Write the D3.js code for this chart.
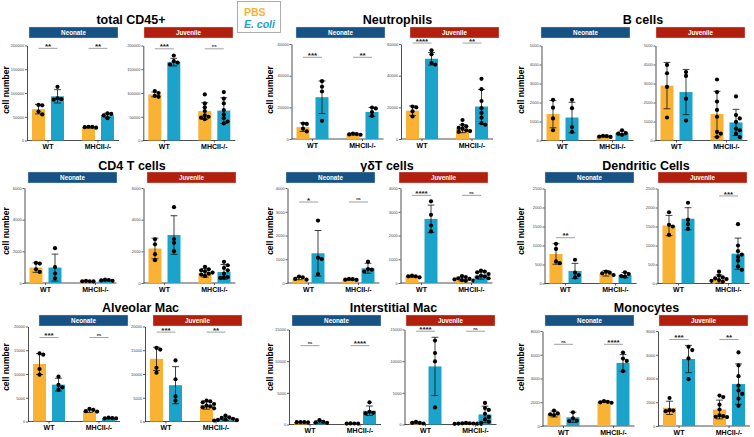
<!DOCTYPE html>
<html><head><meta charset="utf-8">
<script src="https://cdn.jsdelivr.net/npm/d3@7"></script>
<style>
body{margin:0;background:#fff;}
svg{display:block;font-family:"Liberation Sans",Arial,Helvetica,sans-serif;}
</style></head><body>
<svg id="c" width="754" height="437"></svg>
<script>
// ---------- data ----------
const cellTypes = ["total CD45+","Neutrophils","B cells","CD4 T cells","γδT cells","Dendritic Cells","Alveolar Mac","Interstitial Mac","Monocytes"];
const ages = ["Neonate","Juvenile"];
const genotypes = ["WT","MHCII-/-"];
const treatments = ["PBS","E. coli"];
const yMax  = [200000, 60000, 5000, 6000, 4000, 2500, 20000, 15000, 8000];
const yStep = [50000, 20000, 1000, 2000, 1000, 500, 5000, 5000, 2000];
// order within each age: WT-PBS, WT-E.coli, MHCII-PBS, MHCII-E.coli
const means = [
  [[66000, 93000, 28000, 53000], [97000, 165000, 62000, 63000]],
  [[7500, 26400, 3000, 17100], [17900, 50700, 6500, 20500]],
  [[1390, 1210, 215, 390], [2890, 2550, 1390, 950]],
  [[975, 975, 110, 170], [2180, 3030, 640, 700]],
  [[190, 1250, 140, 620], [270, 2700, 170, 310]],
  [[777, 330, 268, 223], [1527, 1705, 116, 785]],
  [[12100, 7760, 2170, 700], [13190, 7640, 3470, 555]],
  [[370, 420, 160, 2170], [265, 9170, 160, 1590]],
  [[1010, 730, 2040, 5310], [1530, 5640, 1390, 3530]]
];
const sds = [
  [[10000, 14000, 1500, 4500], [5000, 8000, 17500, 27000]],
  [[2700, 10300, 500, 2800], [3000, 4000, 2500, 10800]],
  [[720, 800, 40, 100], [1220, 1190, 1200, 690]],
  [[300, 850, 20, 40], [650, 1220, 270, 470]],
  [[50, 960, 25, 210], [30, 580, 80, 150]],
  [[270, 200, 72, 68], [265, 290, 110, 410]],
  [[2200, 1350, 250, 100], [2450, 3900, 870, 350]],
  [[20, 180, 15, 750], [100, 4600, 60, 1300]],
  [[250, 430, 60, 700], [560, 1150, 790, 1700]]
];
const points = [
  [[[75000,74000,61000,55000],[113000,89000,87000,86000],[29000,28500,28000,27000],[57000,56000,53000,47000]],
   [[104000,100000,94000,92000],[179000,167000,164000,160000],[97000,78000,70000,62000,53000,50000,48000,45000],[102000,88000,78000,64000,55000,47000,40000,36000]]],
  [[[9800,9500,6500,4800],[36500,33000,30000,11500],[3400,3100,2900,2700],[19900,19300,17000,14600]],
   [[20500,20000,17500,14200],[56000,53500,48000,47000],[12000,9000,8000,7000,6500,5500,5000,4500],[38000,31500,24000,19500,16500,13500,10000,9000]]],
  [[[2140,1730,1160,540],[2140,1700,710,450],[250,230,200,190],[540,390,360,300]],
   [[3980,3540,2820,1210],[3600,3400,2200,1050],[3210,2550,2050,1610,1250,450,360,180],[2320,1340,1160,980,625,540,360,180]]],
  [[[1270,1230,870,700],[2200,1000,600,300],[130,110,100,110],[210,190,160,140]],
   [[2760,2440,1820,1440],[4790,2780,2540,2010],[1020,870,800,740,660,590,530,445],[1340,1120,950,800,590,380,340,320]]],
  [[[270,240,170,140],[2630,1060,1010,380],[180,160,140,130],[900,590,560,480]],
   [[310,280,280,240],[3440,2870,2420,2170],[290,250,200,170,150,120,100,90],[520,480,450,380,310,280,240,200]]],
  [[[1045,910,580,535],[625,285,223,160],[312,285,268,223],[295,250,196,180]],
   [[1875,1545,1500,1277],[2125,1680,1562,1437],[312,205,160,134,116,71,45,90],[1560,1000,850,760,700,600,450,360]]],
  [[[14340,14060,11050,9860],[9440,7690,7200,6710],[2660,2450,2170,2100],[800,720,650,640]],
   [[15490,15140,11320,10280],[12850,8890,5280,4380],[4375,4236,4030,3680,3333,3190,2990,2780],[1250,900,760,555,420,350,280,210]]],
  [[[390,370,360,350],[690,420,320,260],[170,160,150,150],[3500,2010,1850,1750]],
   [[420,265,160,265],[13250,11290,9960,2700],[250,200,180,160,150,130,110,100],[3400,2600,2300,1700,1200,800,450,270]]],
  [[[1290,1060,980,920],[1150,640,450,420],[2100,2040,1990,1960],[6180,5680,5480,4620]],
   [[2360,1330,1300,1250],[6670,6390,5690,3940],[2560,2440,1800,1390,890,830,780,750],[6200,5100,4200,3400,3000,2700,2300,1700]]]
];
// significance labels per age: [WT, MHCII-/-]
const sigLabels = [
  [["**","**"],["***","ns"]],
  [["***","**"],["****","**"]],
  [["",""],["",""]],
  [["",""],["",""]],
  [["*","ns"],["****","ns"]],
  [["**",""],["","***"]],
  [["***","ns"],["***","**"]],
  [["ns","****"],["****","ns"]],
  [["ns","****"],["***","**"]]
];
const sigLevels = [[194000,193000],[51600,60600],[0,0],[0,0],[3410,3690],[1205,2304],[17690,18820],[12450,14730],[6880,7280]];

// ---------- layout ----------
// [neonate axis x, juvenile axis x, plot top y, neonate banner x, juvenile banner x]
const layout = [
  [27,143.3,45.5,29,144],[291.5,401,44,296,410],[541.5,655.5,45.5,541,656],
  [24.5,143.5,188,28,147],[287.5,400.5,188,286,399],[544.5,657.5,188.5,545,658],
  [28,145,326.5,39,153],[289,404.5,329.5,292,406],[542.5,658,331,545,659]
];
const titleY = [24, 170, 312];
const bannerY = [27, 172, 315];
const labelX = [8.5, 273, 524];
const labelY = [90, 231, 367];
const PH = 95;
const colors = {"PBS":"#F9B233","E. coli":"#1CA3C9"};
const bannerColors = {"Neonate":"#165283","Juvenile":"#B21F0D"};

const svg = d3.select("#c");

function swarm(vals, cx, y, r){
  const placed = [];
  const order = vals.map((v,i)=>i).sort((a,b)=>vals[b]-vals[a]);
  const offs = [0,1,-1,2,-2,3,-3,4,-4];
  order.forEach(i=>{
    const py = y(vals[i]);
    for(const o of offs){
      const px = cx + o*r*1.8;
      if(placed.every(q=>Math.hypot(q.x-px,q.y-py) >= r*1.8)){ placed.push({x:px,y:py}); break; }
    }
  });
  return placed;
}

cellTypes.forEach((name,p)=>{
  const row = Math.floor(p/3), col = p%3;
  const [nx, jx, top, nbx, jbx] = layout[p];
  const y = d3.scaleLinear().domain([0, yMax[p]]).range([top+PH, top]);
  const ticks = d3.range(0, yMax[p]+1e-6, yStep[p]);

  svg.append("text").attr("x",(nbx+jbx+89)/2).attr("y",titleY[row])
    .attr("text-anchor","middle").attr("font-size",12.5).attr("font-weight","bold").text(name);

  svg.append("text").attr("transform",`translate(${labelX[col]},${labelY[row]}) rotate(-90)`)
    .attr("text-anchor","middle").attr("font-size",8.5).attr("font-weight","bold").text("cell number");

  [[nx,nbx], [jx,jbx]].forEach(([ax,bxp], a)=>{
    svg.append("rect").attr("x",bxp).attr("y",bannerY[row]).attr("width",89).attr("height",11)
      .attr("fill",bannerColors[ages[a]]).attr("stroke","#d9d9d9").attr("stroke-width",0.4);
    svg.append("text").attr("x",bxp+44.5).attr("y",bannerY[row]+7.8).attr("text-anchor","middle")
      .attr("font-size",6.3).attr("font-weight","bold").attr("fill","#fff").text(ages[a]);

    const g = svg.append("g").attr("transform",`translate(${ax},0)`);
    const x0 = d3.scaleBand().domain(genotypes).range([0,100]);
    const x1 = d3.scaleBand().domain(treatments).range([5,37]).paddingInner(0.316);
    const bw = x1.bandwidth();

    // y axis
    const ya = g.append("g").call(d3.axisLeft(y).tickValues(ticks).tickSize(2).tickSizeOuter(0).tickFormat(d3.format("d")));
    ya.select(".domain").attr("stroke","#222").attr("stroke-width",0.8);
    ya.selectAll(".tick line").attr("stroke","#222").attr("stroke-width",0.7);
    ya.selectAll(".tick text").attr("font-size",4).attr("fill","#444").attr("x",-2.8).attr("font-family","Liberation Sans, Arial");

    // x axis
    g.append("line").attr("x1",0).attr("x2",92).attr("y1",y(0)).attr("y2",y(0)).attr("stroke","#222").attr("stroke-width",0.8);
    genotypes.forEach(gt=>{
      const cx = x0(gt) + 21;
      g.append("line").attr("x1",cx).attr("x2",cx).attr("y1",y(0)).attr("y2",y(0)+2).attr("stroke","#222").attr("stroke-width",0.7);
      g.append("text").attr("x",cx).attr("y",y(0)+8.8).attr("text-anchor","middle")
        .attr("font-size",7).attr("font-weight","bold").text(gt);
    });

    genotypes.forEach((gt,gi)=>{
      treatments.forEach((tr,ti)=>{
        const k = gi*2+ti;
        const m = means[p][a][k], s = sds[p][a][k];
        const bx = x0(gt) + x1(tr), cx = bx + bw/2;
        g.append("rect").attr("x",bx).attr("y",y(m)).attr("width",bw).attr("height",y(0)-y(m))
          .attr("fill",colors[tr]);
        const lo = Math.max(0, m - s), hi = m + s;
        g.append("line").attr("x1",cx).attr("x2",cx).attr("y1",y(lo)).attr("y2",y(hi)).attr("stroke","#111").attr("stroke-width",0.8);
        [lo,hi].forEach(v=>g.append("line").attr("x1",cx-3.4).attr("x2",cx+3.4).attr("y1",y(v)).attr("y2",y(v)).attr("stroke","#111").attr("stroke-width",0.8));
        swarm(points[p][a][k], cx, y, 2.1).forEach(d=>{
          g.append("circle").attr("cx",d.x).attr("cy",d.y).attr("r",2.1).attr("fill","#000");
        });
      });
      const lab = sigLabels[p][a][gi];
      if(lab){
        const c1 = x0(gt) + x1("PBS") + bw/2, c2 = x0(gt) + x1("E. coli") + bw/2;
        const ly = y(sigLevels[p][a]);
        g.append("line").attr("x1",c1).attr("x2",c2).attr("y1",ly).attr("y2",ly).attr("stroke","#888").attr("stroke-width",0.8);
        g.append("text").attr("x",(c1+c2)/2).attr("y", lab==="ns" ? ly-1.6 : ly+0.6).attr("text-anchor","middle")
          .attr("font-size", lab==="ns" ? 4 : 8).attr("font-weight","bold").attr("fill","#222").text(lab);
      }
    });
  });
});

// legend
svg.append("rect").attr("x",237.5).attr("y",1.5).attr("width",43).attr("height",31)
  .attr("fill","#fff").attr("stroke","#9a9a9a").attr("stroke-width",0.8);
svg.append("text").attr("x",244).attr("y",15.5).attr("font-size",10.5).attr("font-weight","bold")
  .attr("fill",colors["PBS"]).text("PBS");
svg.append("text").attr("x",244).attr("y",28).attr("font-size",10.5).attr("font-weight","bold")
  .attr("font-style","italic").attr("fill",colors["E. coli"]).text("E. coli");
</script>
</body></html>
